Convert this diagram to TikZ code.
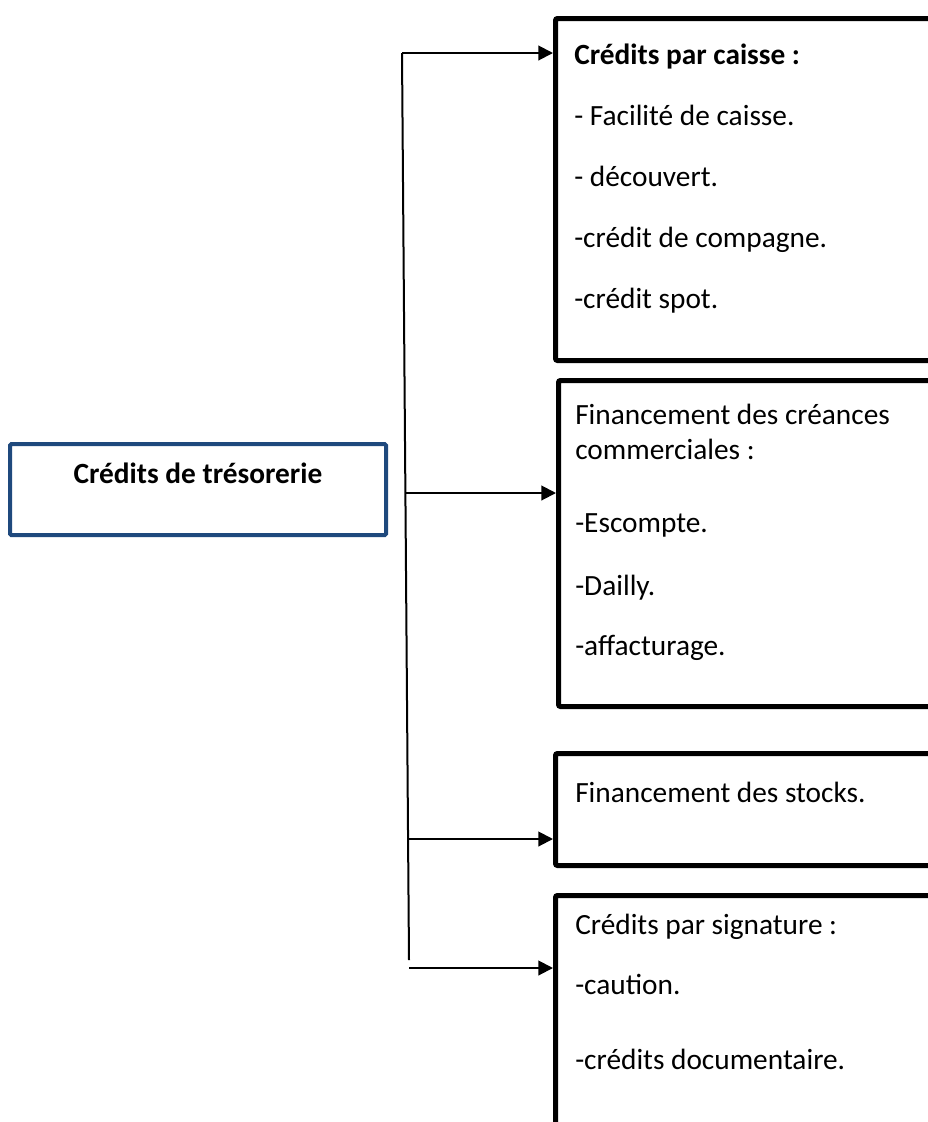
\documentclass[tikz,border=0pt]{standalone}
\usepackage{fontspec}
\setmainfont{Carlito}
\usetikzlibrary{arrows.meta,positioning}
\definecolor{rootblue}{RGB}{31,73,125}
\newcommand{\boxfont}{\fontsize{22}{26.5}\selectfont}

\begin{document}
\begin{tikzpicture}[
  x=0.75pt, y=-0.75pt,
  rootbox/.style={
    draw=rootblue,
    line width=3pt,
    rounded corners=1pt,
    minimum width=282pt,
    minimum height=68.25pt,
    inner sep=0pt,
    text height=14pt,
    text depth=22.4pt,
    font=\boxfont\bfseries
  },
  listbox/.style={
    draw=black,
    line width=3.75pt,
    rounded corners=1.5pt,
    anchor=north west,
    minimum width=300pt,
    inner sep=0pt
  },
  listtext/.style={
    anchor=north west,
    align=left,
    inner sep=0pt,
    font=\boxfont
  },
  flowarrow/.style={
    -{Triangle[length=11pt,width=11pt]},
    line width=1.5pt
  }
  ]

  \useasboundingbox (0,0) rectangle (928,1122);

  % root
  \node[rootbox] (treso) at (198,489.5) {Crédits de trésorerie};

  % boxes on the right
  \node[listbox, minimum height=256.5pt] (caisse) at (553,16) {};
  \node[listbox, minimum height=244.5pt] (creances) at (556,378) {};
  \node[listbox, minimum height=84pt] (stocks) at (553,751) {};
  \node[listbox, minimum height=225pt] (signature) at (553,893) {};

  % texts, top of strut = first baseline - 24.7
  \node[listtext] (caissetext) at (574,39.3) {
    \strut\textbf{Crédits par caisse :}\\[19.25pt]
    - Facilité de caisse.\\[19.25pt]
    - découvert.\\[19.25pt]
    -crédit de compagne.\\[19.25pt]
    -crédit spot.
  };

  \node[listtext] (creancestext) at (575,399.3) {
    \strut Financement des créances\\
    commerciales :\\[28.25pt]
    -Escompte.\\[20.75pt]
    -Dailly.\\[18.5pt]
    -affacturage.
  };

  \node[listtext] (stockstext) at (575,777.3) {\strut Financement des stocks.};

  \node[listtext] (signaturetext) at (575,909.3) {
    \strut Crédits par signature :\\[18.5pt]
    -caution.\\[29.75pt]
    -crédits documentaire.
  };

  % trunk and branches
  \coordinate (top) at (402,53);
  \coordinate (bot) at (409,960);
  \coordinate (b2) at (405,493);
  \coordinate (b3) at (407,839);
  \coordinate (b4) at (409,968);

  \draw[line width=1.5pt] (top) -- (bot);
  \draw[flowarrow] (top) -- (caisse.west |- top);
  \draw[flowarrow] (b2) -- (creances.west |- b2);
  \draw[flowarrow] (b3) -- (stocks.west |- b3);
  \draw[flowarrow] (b4) -- (signature.west |- b4);

\end{tikzpicture}
\end{document}
